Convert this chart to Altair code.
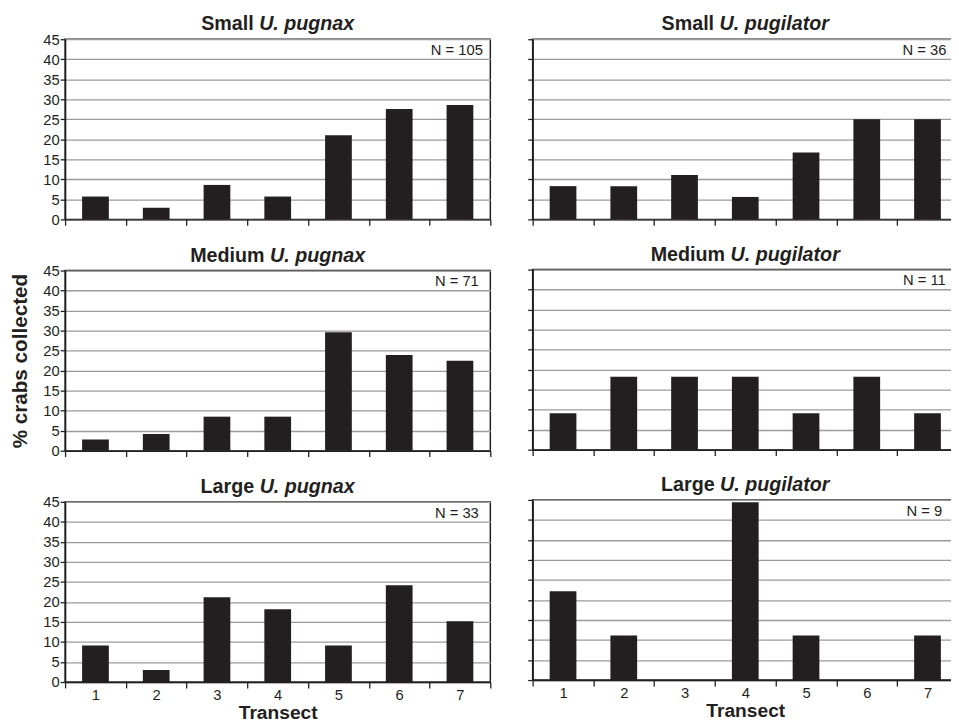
import altair as alt
import pandas as pd

# ---------------- data ----------------
transects = [1, 2, 3, 4, 5, 6, 7]
size_classes = ["Small", "Small", "Medium", "Medium", "Large", "Large"]
species_names = ["U. pugnax", "U. pugilator", "U. pugnax", "U. pugilator", "U. pugnax", "U. pugilator"]
n_counts = [105, 36, 71, 11, 33, 9]

small_pugnax = [5.7, 2.9, 8.6, 5.7, 21.0, 27.6, 28.6]
small_pugilator = [8.3, 8.3, 11.1, 5.6, 16.7, 25.0, 25.0]
medium_pugnax = [2.8, 4.2, 8.5, 8.5, 29.6, 23.9, 22.5]
medium_pugilator = [9.1, 18.2, 18.2, 18.2, 9.1, 18.2, 9.1]
large_pugnax = [9.1, 3.0, 21.2, 18.2, 9.1, 24.2, 15.2]
large_pugilator = [22.2, 11.1, 0.0, 44.4, 11.1, 0.0, 11.1]

panel_values = [small_pugnax, small_pugilator, medium_pugnax,
                medium_pugilator, large_pugnax, large_pugilator]
y_ticks = [0, 5, 10, 15, 20, 25, 30, 35, 40, 45]

# ---------------- style ----------------
FONT = "Liberation Sans"
DARK = "#231f20"
GRID = "#9b9b9b"
PW, PH = 432, 183
TITLE_SIZE = 20
LABEL_SIZE = 15

# Arial/Liberation bold advance widths (per 1000 em) for centering mixed-style titles
BOLD_W = {" ": 278, ".": 278, "S": 667, "M": 833, "L": 611, "U": 722,
          "a": 556, "d": 611, "e": 556, "g": 611, "i": 278, "l": 278,
          "m": 889, "n": 611, "o": 611, "p": 611, "r": 389, "t": 333,
          "u": 611, "x": 556}


def text_width(s, size):
    return sum(BOLD_W.get(c, 556) for c in s) / 1000.0 * size


def panel(i):
    row, col = divmod(i, 2)
    left = col == 0
    bottom = row == 2
    df = pd.DataFrame({"Transect": transects, "pct": panel_values[i]})

    x_kwargs = dict(tickBand="extent", labels=bottom, labelAngle=0,
                    labelFontSize=LABEL_SIZE, labelPadding=0, tickSize=6,
                    tickWidth=1.3, domainWidth=1.5, grid=False,
                    titleFontSize=19.5, titleFontWeight="bold",
                    titlePadding=1)
    x_axis = alt.Axis(title="Transect", **x_kwargs) if bottom else alt.Axis(title=None, **x_kwargs)

    y_kwargs = dict(values=y_ticks, labels=left, labelFontSize=LABEL_SIZE,
                    labelPadding=1, tickSize=5, tickWidth=1.3,
                    domainWidth=1.5, grid=True, gridWidth=1.3,
                    gridColor=GRID, titleFontSize=21,
                    titleFontWeight="bold", titlePadding=13)
    if left:
        y_axis = alt.Axis(title="% crabs collected",
                          titleOpacity=1 if row == 1 else 0, **y_kwargs)
    else:
        y_axis = alt.Axis(title=None, **y_kwargs)

    bars = alt.Chart(df).mark_bar(
        color=DARK, width=alt.RelativeBandSize(0.44)
    ).encode(
        x=alt.X("Transect:O", scale=alt.Scale(paddingInner=0, paddingOuter=0), axis=x_axis),
        y=alt.Y("pct:Q", scale=alt.Scale(domain=[0, 45], nice=False), axis=y_axis),
    )

    size_txt = size_classes[i]
    sp_txt = species_names[i]
    w1 = text_width(size_txt + " ", TITLE_SIZE)
    w2 = text_width(sp_txt, TITLE_SIZE)
    x0 = PW / 2 - (w1 + w2) / 2
    tdf = pd.DataFrame({"size": [size_txt], "species": [sp_txt],
                        "n": ["N = %d" % n_counts[i]]})

    t1 = alt.Chart(tdf).mark_text(
        align="left", baseline="alphabetic", fontSize=TITLE_SIZE,
        fontWeight="bold", font=FONT, color=DARK
    ).encode(x=alt.value(x0), y=alt.value(-9), text="size:N")
    t2 = alt.Chart(tdf).mark_text(
        align="left", baseline="alphabetic", fontSize=TITLE_SIZE,
        fontWeight="bold", fontStyle="italic", font=FONT, color=DARK
    ).encode(x=alt.value(x0 + w1), y=alt.value(-9), text="species:N")
    nt = alt.Chart(tdf).mark_text(
        align="center", baseline="alphabetic", fontSize=LABEL_SIZE, font=FONT, color=DARK
    ).encode(x=alt.value(398), y=alt.value(16), text="n:N")

    return alt.layer(bars, t1, t2, nt).properties(width=PW, height=PH)


panels = [panel(i) for i in range(6)]
left_col = alt.vconcat(panels[0], panels[2], panels[4], spacing=17)
right_col = alt.vconcat(panels[1], panels[3], panels[5], spacing=17)

chart = alt.hconcat(left_col, right_col, spacing=34).properties(
    padding={"left": 0, "top": 0, "right": -9, "bottom": 0}
).configure_view(
    stroke=DARK, strokeWidth=1.5
).configure_axis(
    labelFont=FONT, titleFont=FONT, labelColor=DARK, titleColor=DARK,
    domainColor=DARK, tickColor=DARK
)

chart.save("out.html", embed_options={"renderer": "svg", "actions": False})
